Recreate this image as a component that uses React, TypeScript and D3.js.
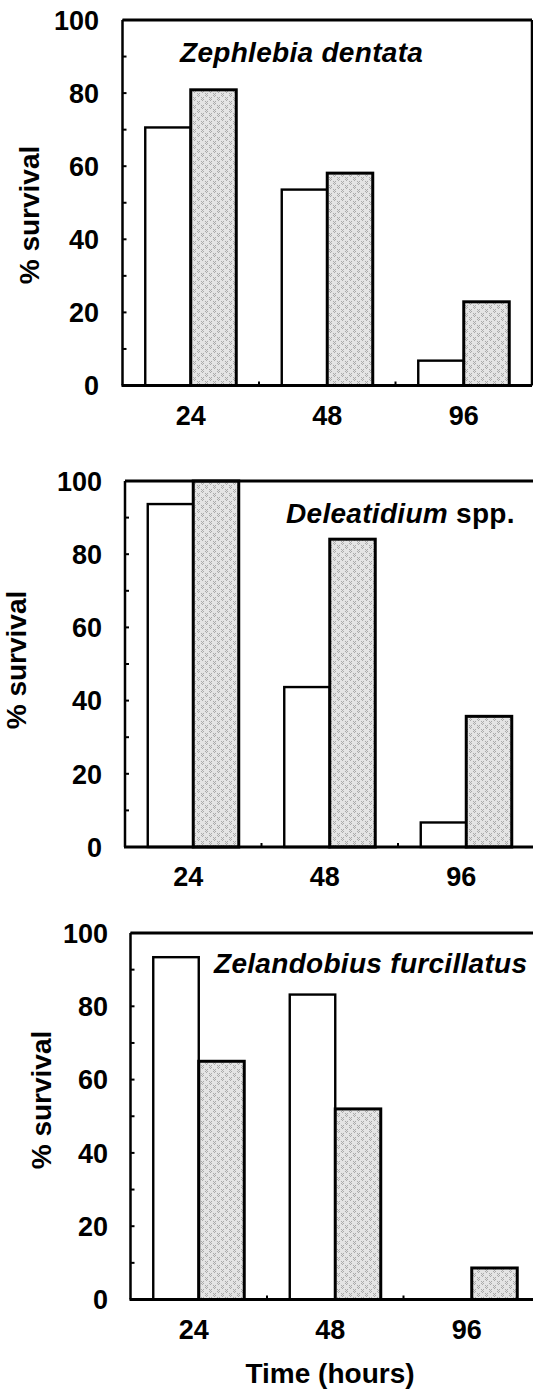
import React, { useEffect, useRef } from "react";
import * as d3 from "d3";

// hours after exposure
const times = ["24", "48", "96"];
const series = ["open", "shaded"];

// species per panel, [italic part, plain part]
const species = [
  ["Zephlebia dentata", ""],
  ["Deleatidium", " spp."],
  ["Zelandobius furcillatus", ""],
];

// % survival
const openValues = [
  [70.6, 53.6, 6.8],
  [93.7, 43.7, 6.7],
  [93.4, 83.2, 0],
];
const shadedValues = [
  [80.9, 58.1, 22.9],
  [100, 84.1, 35.7],
  [65, 52, 8.6],
];

const yTicks = [0, 20, 40, 60, 80, 100];
const yMinor = [10, 30, 50, 70, 90];

// where each panel sits on the page
const layout = [
  { left: 122.5, top: 20, bottom: 385.5, labelRight: 99, labelShift: 0, yTitleX: 38.5, yTitleY: 215, nameX: 180, nameY: 62 },
  { left: 125, top: 481, bottom: 847, labelRight: 102, labelShift: -5, yTitleX: 25.5, yTitleY: 660, nameX: 286, nameY: 523 },
  { left: 130.5, top: 933, bottom: 1299.5, labelRight: 108, labelShift: -5, yTitleX: 51, yTitleY: 1100, nameX: 214, nameY: 973 },
];
const plotWidth = 409.5;
const font = "'Liberation Sans', Arial, Helvetica, sans-serif";

export default function App() {
  const ref = useRef<SVGSVGElement>(null);

  useEffect(() => {
    const svg = d3.select(ref.current);
    svg.selectAll("*").remove();

    // stippled fill for the shaded bars
    const pat = svg.append("defs").append("pattern")
      .attr("id", "stipple")
      .attr("patternUnits", "userSpaceOnUse")
      .attr("width", 8)
      .attr("height", 8);
    pat.append("rect").attr("width", 8).attr("height", 8).attr("fill", "#e4e4e4");
    [[1, 1], [3, 1], [2, 2], [1, 3], [3, 3], [5, 5], [7, 5], [6, 6], [5, 7], [7, 7], [6, 0], [2, 4]].forEach(([x, y]) => {
      pat.append("rect").attr("x", x).attr("y", y).attr("width", 1).attr("height", 1).attr("fill", "#aaaaaa");
    });

    layout.forEach((p, i) => {
      const g = svg.append("g");
      const x = d3.scaleBand().domain(times).range([p.left, p.left + plotWidth])
        .paddingInner(1 / 3).paddingOuter(1 / 6);
      const xs = d3.scaleBand().domain(series).range([0, x.bandwidth()]);
      const y = d3.scaleLinear().domain([0, 100]).range([p.bottom, p.top]);

      // bars
      const rows = times.map((t, j) => ({ t, open: openValues[i][j], shaded: shadedValues[i][j] }));
      rows.forEach(d => {
        if (d.open > 0) {
          g.append("rect")
            .attr("x", x(d.t)! + xs("open")!)
            .attr("y", y(d.open))
            .attr("width", xs.bandwidth())
            .attr("height", y(0) - y(d.open))
            .attr("fill", "#fff")
            .attr("stroke", "#000")
            .attr("stroke-width", 2.4);
        }
        if (d.shaded > 0) {
          g.append("rect")
            .attr("x", x(d.t)! + xs("shaded")!)
            .attr("y", y(d.shaded))
            .attr("width", xs.bandwidth())
            .attr("height", y(0) - y(d.shaded))
            .attr("fill", "url(#stipple)")
            .attr("stroke", "#000")
            .attr("stroke-width", 3);
        }
      });

      // frame
      const right = p.left + plotWidth;
      g.append("line").attr("x1", p.left).attr("x2", right).attr("y1", p.top).attr("y2", p.top)
        .attr("stroke", "#000").attr("stroke-width", 3);
      g.append("line").attr("x1", right).attr("x2", right).attr("y1", p.top).attr("y2", p.bottom)
        .attr("stroke", "#000").attr("stroke-width", 2.5);
      g.append("line").attr("x1", p.left).attr("x2", p.left).attr("y1", p.top).attr("y2", p.bottom)
        .attr("stroke", "#000").attr("stroke-width", 2.5);
      g.append("line").attr("x1", p.left - 1).attr("x2", right).attr("y1", p.bottom).attr("y2", p.bottom)
        .attr("stroke", "#000").attr("stroke-width", 3);

      // y ticks point inwards
      yTicks.concat(yMinor).forEach(v => {
        g.append("line").attr("x1", p.left).attr("x2", p.left + 4)
          .attr("y1", y(v)).attr("y2", y(v)).attr("stroke", "#000").attr("stroke-width", 2);
      });
      g.selectAll(".ylab").data(yTicks).enter().append("text")
        .attr("x", p.labelRight)
        .attr("y", d => y(d))
        .attr("dy", "0.36em")
        .attr("text-anchor", "end")
        .style("font-family", font)
        .style("font-weight", "bold")
        .style("font-size", "27px")
        .text(d => d);

      // x ticks between the groups
      times.slice(1).forEach(t => {
        const bx = x(t)! - x.step() * x.paddingInner() / 2;
        g.append("line").attr("x1", bx).attr("x2", bx).attr("y1", p.bottom).attr("y2", p.bottom - 4)
          .attr("stroke", "#000").attr("stroke-width", 2);
      });
      g.selectAll(".xlab").data(times).enter().append("text")
        .attr("x", d => x(d)! + x.bandwidth() / 2 + p.labelShift)
        .attr("y", p.bottom + 39)
        .attr("text-anchor", "middle")
        .style("font-family", font)
        .style("font-weight", "bold")
        .style("font-size", "27px")
        .text(d => d);

      // y title
      g.append("text")
        .attr("transform", `translate(${p.yTitleX},${p.yTitleY}) rotate(-90)`)
        .attr("text-anchor", "middle")
        .style("font-family", font)
        .style("font-weight", "bold")
        .style("font-size", "28px")
        .text("% survival");

      // species name
      const name = g.append("text")
        .attr("x", p.nameX)
        .attr("y", p.nameY)
        .style("font-family", font)
        .style("font-weight", "bold")
        .style("font-size", "28px")
        .style("letter-spacing", "0.3px");
      name.append("tspan").style("font-style", "italic").text(species[i][0]);
      if (species[i][1]) name.append("tspan").text(species[i][1]);

      if (i === layout.length - 1) {
        g.append("text")
          .attr("x", 330)
          .attr("y", 1383)
          .attr("text-anchor", "middle")
          .style("font-family", font)
          .style("font-weight", "bold")
          .style("font-size", "28px")
          .text("Time (hours)");
      }
    });
  }, []);

  return (
    <svg ref={ref} width={533} height={1390}
      style={{ position: "absolute", left: 0, top: 0, background: "#fff" }} />
  );
}
